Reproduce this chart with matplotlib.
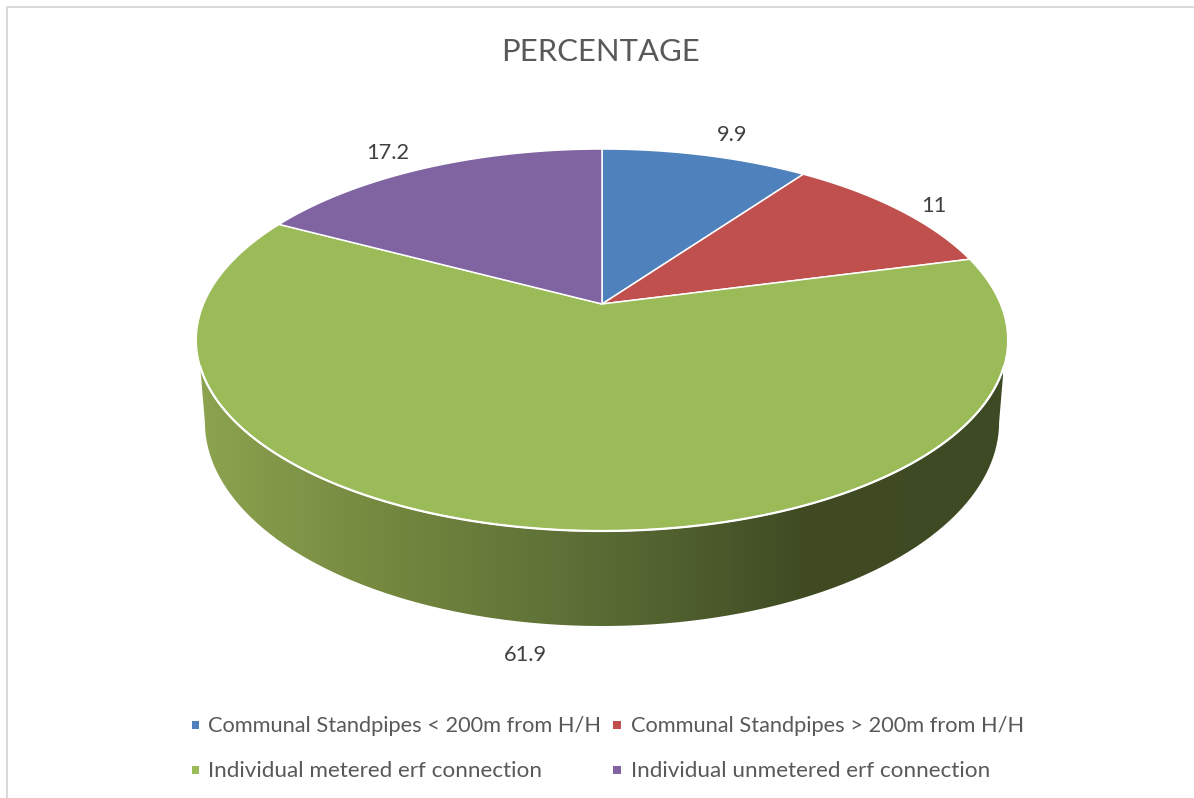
# 3D looking pie chart, drawn by hand because matplotlib has no perspective pie
import numpy as np
import matplotlib
matplotlib.use('Agg')
import matplotlib.pyplot as plt
from matplotlib.colors import LinearSegmentedColormap
from matplotlib.patches import Polygon, PathPatch, Rectangle
from matplotlib.path import Path

# data
title = 'PERCENTAGE'
categories = ['Communal Standpipes < 200m from H/H', 'Communal Standpipes > 200m from H/H',
              'Individual metered erf connection', 'Individual unmetered erf connection']
values = [9.9, 11, 61.9, 17.2]
value_labels = ['9.9', '11', '61.9', '17.2']
colors = ['#4F81BD', '#C0504D', '#9BBB59', '#8064A2']

plt.rcParams['font.family'] = ['Lato', 'DejaVu Sans']
W, H = 1194, 798
TEXT = '#595959'


# circle angle (clockwise from the back of the pie) to pixel position
def project(theta, cy, a, b, k=0.1885, cx=602):
    w = 1 + k * np.cos(theta)
    return cx + b * np.sin(theta) / w, cy - a * np.cos(theta) / w


def top(theta):
    return project(theta, 304, 184.2, 398.5)


def lower(theta):
    return project(theta, 383.5, 196.8, 390)


fig = plt.figure(figsize=(W / 100, H / 100), dpi=100)
ax = fig.add_axes([0, 0, 1, 1])
ax.set_xlim(0, W)
ax.set_ylim(H, 0)
ax.axis('off')

# chart frame, only left and top show in the crop
ax.plot([7, 7, W + 5], [H + 5, 7, 7], color='#D9D9D9', lw=1.45)

# side wall: lower rim plus front of the top rim, shaded left to right
t_low = np.linspace(1.761, 2 * np.pi - 1.761, 200)
t_up = np.linspace(2 * np.pi - 1.897, 1.897, 200)
lx, ly = lower(t_low)
ux, uy = top(t_up)
side = np.column_stack([np.r_[lx, ux], np.r_[ly, uy]])
shade = LinearSegmentedColormap.from_list('side', [(0, '#8CA34F'), (0.23, '#74883F'), (0.5, '#5A6C35'),
                                                   (0.75, '#404B23'), (1, '#3E4A23')])
img = ax.imshow(np.linspace(0, 1, 400).reshape(1, -1), cmap=shade, aspect='auto',
                extent=[198, 1003, 640, 340], zorder=1)
clip = PathPatch(Path(side), transform=ax.transData, fc='none', ec='none')
ax.add_patch(clip)
img.set_clip_path(clip)
ax.set_xlim(0, W)
ax.set_ylim(H, 0)

# top slices
cum = np.cumsum([0] + values) / sum(values) * 2 * np.pi
for i in range(len(values)):
    t = np.linspace(cum[i], cum[i + 1], 200)
    x, y = top(t)
    pts = np.column_stack([np.r_[602, x], np.r_[304, y]])
    ax.add_patch(Polygon(pts, closed=True, fc=colors[i], ec='white', lw=1.1, zorder=2, joinstyle='round'))

# brighter white edge along the front of the rim
ax.plot(ux, uy, color='white', lw=1.6, zorder=2.5)

# data labels, offset from the rim at each slice's middle
offsets = [(27, -20), (35, -4), (-20, 126), (-38, -15)]
for i in range(len(values)):
    mx, my = top((cum[i] + cum[i + 1]) / 2)
    ax.text(mx + offsets[i][0], my + offsets[i][1], value_labels[i], ha='center', va='center',
            fontsize=15.7, color='#404040', zorder=3)

ax.text(601, 52, title, ha='center', va='center', fontsize=22.3, color=TEXT)

# legend, two rows of two
mark_x = [195.5, 617]
text_x = [208, 631]
leg_y = [725, 770]
leg_size = [15.7, 16.2]
for i in range(len(categories)):
    col = i % 2
    row = i // 2
    ax.add_patch(Rectangle((mark_x[col] - 3.8, leg_y[row] - 3.8), 7.6, 7.6, fc=colors[i], ec='none'))
    ax.text(text_x[col], leg_y[row] + 1, categories[i], ha='left', va='center', fontsize=leg_size[row], color=TEXT)

fig.savefig('out.png', dpi=100)
